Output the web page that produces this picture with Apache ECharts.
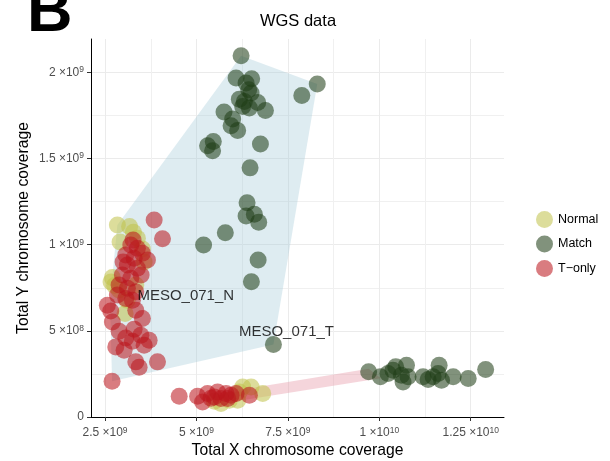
<!DOCTYPE html>
<html><head><meta charset="utf-8">
<script src="https://cdn.jsdelivr.net/npm/echarts@6/dist/echarts.min.js"></script>
<style>html,body{margin:0;padding:0;background:#fff}#c{width:610px;height:461px}</style>
</head><body><div id="c"></div>
<script>
// values in units of 1e9 (coverage)
const normalPts = [
[2.837,1.115],[3.172,1.106],[3.276,1.072],[2.911,1.016],[3.385,1.037],[3.522,0.975],[3.569,0.899],
[2.700,0.809],[2.760,0.763],[3.341,0.766],[2.664,0.783],[2.884,0.737],[3.103,0.678],[3.048,0.601],
[6.264,0.174],[6.494,0.174],[6.812,0.136],[6.173,0.145],[6.126,0.097],[5.671,0.078],[5.899,0.097],[5.488,0.091]
];
const matchPts = [
[6.220,2.097],[6.083,1.967],[6.510,1.963],[6.357,1.938],[6.428,1.899],[6.494,1.880],[6.173,1.845],
[6.310,1.831],[6.675,1.826],[6.264,1.802],[6.447,1.793],[6.886,1.779],[5.754,1.770],[5.990,1.729],
[5.946,1.690],[6.126,1.663],[5.304,1.574],[5.460,1.599],[5.441,1.545],[6.749,1.585],[6.466,1.446],
[8.303,1.933],[7.881,1.866],[6.384,1.244],[6.357,1.167],[6.584,1.177],[6.702,1.130],[5.789,1.070],
[5.195,0.998],[6.686,0.911],[6.502,0.785],[7.105,0.421],
[9.709,0.262],[10.030,0.233],[10.238,0.252],[10.375,0.272],[10.449,0.291],[10.743,0.301],[10.605,0.242],
[10.786,0.233],[10.649,0.203],[11.197,0.233],[11.335,0.217],[11.472,0.233],[11.636,0.301],[11.609,0.252],
[11.702,0.213],[12.020,0.233],[12.431,0.223],[12.908,0.276]
];
const tonlyPts = [
[3.843,1.144],[4.071,1.035],
[3.204,0.998],[3.385,0.979],[3.522,0.950],[3.659,0.911],[3.067,0.940],[3.295,0.921],[3.111,0.882],
[3.385,0.863],[2.974,0.824],[3.204,0.805],[2.884,0.766],[3.111,0.747],[3.341,0.727],[2.837,0.708],
[3.067,0.688],[3.248,0.678],[3.267,1.027],[2.993,0.899],[3.487,0.824],
[2.563,0.649],[2.656,0.615],[3.341,0.620],[3.522,0.572],[2.700,0.552],[2.884,0.498],[3.295,0.510],
[3.067,0.459],[3.479,0.475],[3.706,0.446],[3.248,0.440],[2.793,0.407],[3.021,0.388],[3.569,0.417],
[3.341,0.320],[3.432,0.289],[3.934,0.320],[2.692,0.208],
[4.528,0.120],[5.030,0.120],[5.167,0.087],[5.304,0.136],[5.578,0.145],[5.488,0.116],[5.671,0.107],
[5.809,0.136],[5.946,0.126],[6.083,0.136],[5.852,0.107],[6.447,0.126],[5.399,0.109]
];
const blueHull = [[6.220,2.097],[8.303,1.933],[7.105,0.421],[2.692,0.208],[2.637,0.678],[2.837,1.115]];
const pinkHull = [[5.625,0.138],[9.709,0.280],[10.038,0.225],[5.899,0.085]];
const sampleLabels = [
  {name:'MESO_071_N', value:[4.707,0.702]},
  {name:'MESO_071_T', value:[7.461,0.492]}
];
const xTicks = [2.5,5,7.5,10,12.5];
const xTickMant = ['2.5','5','7.5','1','1.25'];
const xTickExp = ['9','9','9','10','10'];
const xMinor = [3.75,6.25,8.75,11.25];
const yTicks = [0,0.5,1,1.5,2];
const yTickMant = ['0','5','1','1.5','2'];
const yTickExp = ['','8','9','9','9'];
const yMinor = [0.25,0.75,1.25,1.75];

const FF = '"Liberation Sans", Arial, sans-serif';
const rich = {
  m:{fontSize:12,color:'#4D4D4D',fontFamily:FF,lineHeight:14},
  e:{fontSize:8.5,color:'#4D4D4D',fontFamily:FF,verticalAlign:'top',lineHeight:8}
};
function mkFmt(ticks, mant, exp){
  return function(v){
    let i = ticks.findIndex(t=>Math.abs(t-v)<1e-6);
    if(i<0) return '';
    if(!exp[i]) return '{m|'+mant[i]+'}';
    return '{m|'+mant[i]+' \u00d710}{e|'+exp[i]+'}';
  };
}
function hull(name, pts, color){
  return {type:'custom', name:name, silent:true, z:1, clip:true,
    encode:{x:0,y:1}, data:[pts[0]],
    renderItem:function(params, api){
      return {type:'polygon', shape:{points:pts.map(p=>api.coord(p))}, style:{fill:color}};
    }};
}
const XMIN=2.116, XMAX=13.41, YMIN=0, YMAX=2.194;
const chart = echarts.init(document.getElementById('c'));
chart.setOption({
  animation:false,
  backgroundColor:'#fff',
  textStyle:{fontFamily:FF},
  grid:{left:91,right:106,top:39,bottom:44,containLabel:false,outerBoundsMode:'none'},
  graphic:[
    {type:'text', x:298, y:21, style:{text:'WGS data', font:'16.5px '+FF, fill:'#000', align:'center', verticalAlign:'middle'}},
    {type:'text', x:27, y:-18, style:{text:'B', font:'bold 63px '+FF, fill:'#000', align:'left', verticalAlign:'top'}}
  ],
  legend:{
    data:['Normal','Match','T\u2212only'], orient:'vertical', left:531, top:206,
    itemWidth:17, itemHeight:17, itemGap:7.5, icon:'circle', itemTextGap:14,
    textStyle:{fontSize:12.5, color:'#000', fontFamily:FF}
  },
  xAxis:[{
    type:'value', min:XMIN, max:XMAX, position:'bottom',
    name:'Total X chromosome coverage', nameLocation:'middle', nameGap:26, nameMoveOverlap:false,
    nameTextStyle:{fontSize:15.7, color:'#000', fontFamily:FF},
    axisLine:{show:true, onZero:false, lineStyle:{color:'#000', width:1}},
    axisTick:{show:true, length:4, customValues:xTicks, lineStyle:{color:'#333'}},
    axisLabel:{customValues:xTicks, formatter:mkFmt(xTicks,xTickMant,xTickExp), rich:rich, margin:9, hideOverlap:false},
    splitLine:{show:true, lineStyle:{color:'#EBEBEB', width:1}}
  },{
    type:'value', min:XMIN, max:XMAX, position:'bottom',
    axisLine:{show:false}, axisTick:{show:false, customValues:xMinor},
    axisLabel:{show:false, customValues:xMinor},
    splitLine:{show:true, lineStyle:{color:'#F0F0F0', width:1}}
  }],
  yAxis:[{
    type:'value', min:YMIN, max:YMAX, position:'left',
    name:'Total Y chromosome coverage', nameLocation:'middle', nameGap:59, nameMoveOverlap:false,
    nameTextStyle:{fontSize:15.7, color:'#000', fontFamily:FF},
    axisLine:{show:true, onZero:false, lineStyle:{color:'#000', width:1}},
    axisTick:{show:true, length:4, customValues:yTicks, lineStyle:{color:'#333'}},
    axisLabel:{customValues:yTicks, formatter:mkFmt(yTicks,yTickMant,yTickExp), rich:rich, margin:7},
    splitLine:{show:true, lineStyle:{color:'#EBEBEB', width:1}}
  },{
    type:'value', min:YMIN, max:YMAX, position:'left',
    axisLine:{show:false}, axisTick:{show:false, customValues:yMinor},
    axisLabel:{show:false, customValues:yMinor},
    splitLine:{show:true, lineStyle:{color:'#F0F0F0', width:1}}
  }],
  series:[
    hull('blueHull', blueHull, 'rgba(160,200,215,0.35)'),
    hull('pinkHull', pinkHull, 'rgba(230,150,165,0.4)'),
    {type:'scatter', name:'Normal', data:normalPts, symbolSize:17, z:3,
      itemStyle:{color:'rgba(192,195,76,0.7)', borderWidth:0}},
    {type:'scatter', name:'Match', data:matchPts, symbolSize:17, z:3,
      itemStyle:{color:'rgba(30,60,22,0.7)', borderWidth:0}},
    {type:'scatter', name:'T\u2212only', data:tonlyPts, symbolSize:17, z:3,
      itemStyle:{color:'rgba(188,22,28,0.7)', borderWidth:0}},
    {type:'scatter', name:'labels', data:sampleLabels, symbolSize:0, z:5, silent:true,
      label:{show:true, position:'inside', formatter:'{b}', fontSize:15, color:'#000', fontFamily:FF}}
  ]
});
</script></body></html>
